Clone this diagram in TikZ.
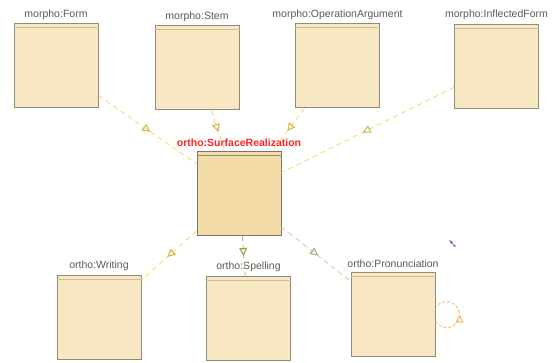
\documentclass[tikz,border=0pt]{standalone}
\usepackage{fontspec}
\setmainfont{Liberation Sans}
\usetikzlibrary{arrows.meta,decorations.markings,calc}
\definecolor{boxfill}{HTML}{F8E7C3}
\definecolor{srfill}{HTML}{F3DCA8}
\definecolor{boxline}{HTML}{948A7A}
\definecolor{headline}{HTML}{CDBC98}
\definecolor{labtext}{HTML}{5A5A5A}
\definecolor{srred}{HTML}{FF2424}
\definecolor{edgeyellow}{HTML}{F8D860}
\definecolor{edgeolive}{HTML}{B4BC62}
\definecolor{arrowolive}{HTML}{9AA63A}
\definecolor{edgegray}{HTML}{CACAA6}
\definecolor{looporange}{HTML}{FFB470}
\definecolor{iconblue}{HTML}{5D7BB0}
\tikzset{
  classbox/.style={draw=boxline, line width=1pt, fill=boxfill,
    minimum width=84pt, minimum height=84pt, inner sep=0pt,
    label={[lab]above:#1}},
  lab/.style={font=\fontsize{10.5}{12}\selectfont, text=labtext, inner sep=0pt, label distance=4pt},
  srlab/.style={font=\fontsize{10.5}{12}\selectfont\bfseries, text=srred, inner sep=0pt},
  edge/.style={draw=#1, dashed, dash pattern=on 5pt off 4pt, line width=0.8pt,
    postaction={decorate, decoration={markings,
      mark=at position 0.53 with {\arrow[#1!85!black, solid, line width=1.1pt]{Triangle[open, length=8pt, width=8pt]}}}}},
  edgeB/.style={draw=edgeolive, dashed, dash pattern=on 5pt off 4pt, line width=0.8pt,
    postaction={decorate, decoration={markings,
      mark=at position 0.5 with {\arrow[arrowolive, solid, line width=1.1pt]{Triangle[open, length=8pt, width=8pt]}}}}},
  selfloop/.style={draw=looporange, dashed, dash pattern=on 3pt off 2pt, line width=0.9pt,
    postaction={decorate, decoration={markings,
      mark=at position 0.5 with {\arrow[looporange, solid, line width=1pt]{Triangle[open, length=8pt, width=8pt]}}}}},
}
\newcommand{\headerline}[1]{\draw[headline, line width=0.8pt] ([yshift=-4pt]#1.north west) -- ([yshift=-4pt]#1.north east);}
\begin{document}
\begin{tikzpicture}[x=1pt,y=-1pt]
\useasboundingbox[fill=white] (0,0) rectangle (556,363);

% nodes
\node[classbox={morpho:Form}] (form) at (56,66) {};
\node[classbox={morpho:Stem}] (stem) at (197,68) {};
\node[classbox={morpho:OperationArgument}] (oparg) at (337.5,66) {};
\node[classbox={morpho:InflectedForm}] (infl) at (496.5,66.5) {};
\node[classbox={}, fill=srfill, draw=boxline!85!black,
  label={[srlab, label distance=4pt]above:ortho:SurfaceRealization}] (sr) at (239,193.5) {};
\node[classbox={ortho:Writing}] (writ) at (99,317.5) {};
\node[classbox={ortho:Spelling}] (spel) at (248.5,318.5) {};
\node[classbox={ortho:Pronunciation}] (pron) at (393,314.5) {};

\headerline{form}
\headerline{stem}
\headerline{oparg}
\headerline{infl}
\headerline{writ}
\headerline{spel}
\headerline{pron}
\draw[boxline, line width=0.8pt] ([yshift=-4pt]sr.north west) -- ([yshift=-4pt]sr.north east);

% edges
\draw[edge=edgeyellow] (form) -- (sr);
\draw[edge=edgeyellow] (stem) -- (sr);
\draw[edge=edgeyellow] (oparg) -- (sr);
\draw[edge=edgeyellow] (infl) -- (sr);
\draw[edge=edgeyellow] (sr) -- (writ);
\draw[edgeB] (sr) -- (spel);
\draw[edge=edgegray] (sr) -- (pron);

% self loop
\draw[selfloop] ([yshift=-7pt]pron.east) arc[start angle=-148, end angle=148, radius=13pt];

% small icon
\coordinate (icon) at (452,243);
\fill[iconblue] ($(icon)+(-3,-3)$) -- ($(icon)+(1,-1)$) -- ($(icon)+(-1,1)$) -- cycle;
\fill[iconblue!60!gray] ($(icon)+(0,0)$) -- ($(icon)+(4,3)$) -- ($(icon)+(2,4)$) -- cycle;
\end{tikzpicture}
\end{document}
